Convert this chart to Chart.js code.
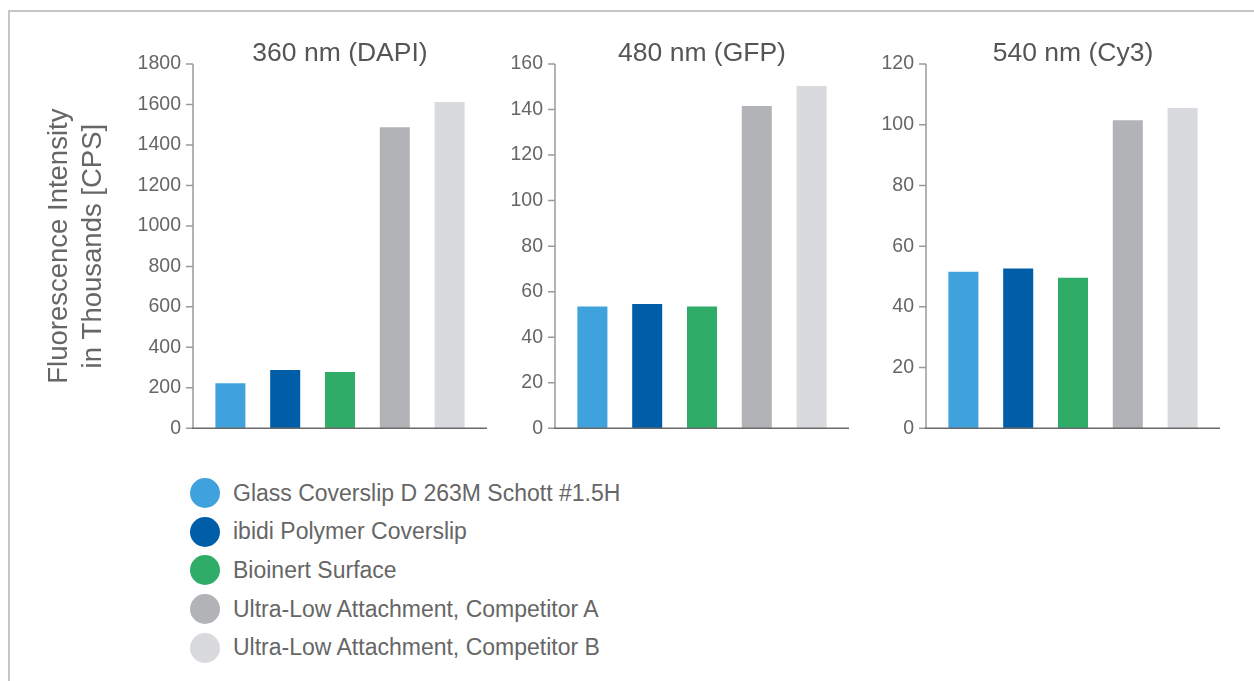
<!DOCTYPE html>
<html>
<head>
<meta charset="utf-8">
<script src="https://cdn.jsdelivr.net/npm/chart.js@4/dist/chart.umd.min.js"></script>
<style>
  body { margin: 0; background: #fff; width: 1254px; height: 681px; overflow: hidden; position: relative; font-family: "Liberation Sans", Arial, sans-serif; }
  #frame { position: absolute; left: 8px; top: 10px; width: 1300px; height: 700px; border-top: 2px solid #c6c6c6; border-left: 2px solid #c6c6c6; }
  canvas { position: absolute; top: 0; }
  #legend { position: absolute; left: 190px; top: 474px; }
  .item { height: 38.6px; display: flex; align-items: center; color: #666; font-size: 23px; }
  .dot { width: 30px; height: 30px; border-radius: 50%; margin-right: 13px; flex: none; }
</style>
</head>
<body>
<div id="frame"></div>
<canvas id="c0" width="500" height="462" style="left:0px"></canvas>
<canvas id="c1" width="370" height="462" style="left:500px"></canvas>
<canvas id="c2" width="384" height="462" style="left:870px"></canvas>
<div id="legend"></div>
<script>
const categories = [
    "Glass Coverslip D 263M Schott #1.5H",
    "ibidi Polymer Coverslip",
    "Bioinert Surface",
    "Ultra-Low Attachment, Competitor A",
    "Ultra-Low Attachment, Competitor B"
];
const colors = ["#3fa2dd", "#005ea9", "#2fad68", "#b2b3b7", "#d9dadd"];

const panelTitles = ["360 nm (DAPI)", "480 nm (GFP)", "540 nm (Cy3)"];
const dapi = [222, 288, 278, 1488, 1612];
const gfp = [53.5, 54.6, 53.5, 141.5, 150.3];
const cy3 = [51.6, 52.6, 49.6, 101.5, 105.5];
const yMax = [1800, 160, 120];
const yStep = [200, 20, 20];
const yTitle = ["Fluorescence Intensity", "in Thousands [CPS]"];

const series = [dapi, gfp, cy3];
// plot-area left edge and right padding inside each canvas
const areaLeft = [203, 65, 66];
const padRight = [23, 31, 44];
const FONT = '"Liberation Sans", Arial, sans-serif';

// axes are drawn by hand so they can stick out past the bar slots
const axesPlugin = {
    id: 'axes',
    afterDraw(chart) {
        const ctx = chart.ctx;
        const area = chart.chartArea;
        const y = chart.scales.y;
        const ax = area.left - 10;
        ctx.save();
        ctx.strokeStyle = '#9a9a9a';
        ctx.lineWidth = 1.5;
        ctx.beginPath();
        ctx.moveTo(ax, area.top);
        ctx.lineTo(ax, area.bottom);
        y.ticks.forEach(t => {
            const py = y.getPixelForValue(t.value);
            ctx.moveTo(ax - 7, py);
            ctx.lineTo(ax, py);
        });
        ctx.stroke();
        ctx.strokeStyle = '#6a6a6a';
        ctx.beginPath();
        ctx.moveTo(ax - 1, area.bottom);
        ctx.lineTo(area.right + 10, area.bottom);
        ctx.stroke();
        ctx.fillStyle = '#555';
        ctx.font = '26.5px ' + FONT;
        ctx.textAlign = 'center';
        ctx.textBaseline = 'middle';
        ctx.fillText(chart.options.plugins.panelTitle, (ax + area.right + 10) / 2, 54);
        ctx.restore();
    }
};

series.forEach((vals, i) => {
    new Chart(document.getElementById('c' + i), {
        type: 'bar',
        data: {
            labels: categories,
            datasets: [{
                data: vals,
                backgroundColor: colors,
                barPercentage: 0.548,
                categoryPercentage: 1
            }]
        },
        options: {
            responsive: false,
            animation: false,
            layout: { padding: { top: 64, bottom: 5, left: 0, right: padRight[i] } },
            plugins: {
                legend: { display: false },
                tooltip: { enabled: false },
                panelTitle: panelTitles[i]
            },
            scales: {
                x: {
                    grid: { display: false, drawTicks: false },
                    border: { display: false },
                    ticks: { display: false },
                    afterFit: s => { s.height = 0; }
                },
                y: {
                    min: 0,
                    max: yMax[i],
                    grid: { display: false, drawTicks: false },
                    border: { display: false },
                    ticks: {
                        stepSize: yStep[i],
                        padding: 22,
                        color: '#666',
                        font: { family: FONT, size: 19.5 },
                        callback: v => String(v)
                    },
                    title: {
                        display: i === 0,
                        text: yTitle,
                        color: '#666',
                        font: { family: FONT, size: 27.5, lineHeight: 1.24 },
                        padding: { top: 42, bottom: 0 }
                    },
                    afterFit: s => { s.width = areaLeft[i]; }
                }
            }
        },
        plugins: [axesPlugin]
    });
});

const legend = document.getElementById('legend');
categories.forEach((name, i) => {
    const row = document.createElement('div');
    row.className = 'item';
    const dot = document.createElement('span');
    dot.className = 'dot';
    dot.style.background = colors[i];
    row.appendChild(dot);
    row.appendChild(document.createTextNode(name));
    legend.appendChild(row);
});
</script>
</body>
</html>
